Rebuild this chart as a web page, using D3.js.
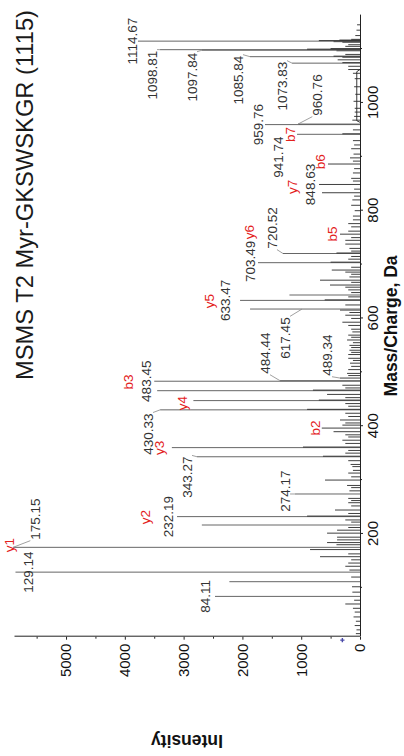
<!DOCTYPE html>
<html><head><meta charset="utf-8">
<script src="https://cdn.jsdelivr.net/npm/d3@7"></script>
<style>html,body{margin:0;padding:0;background:#fff;}svg{display:block;}</style>
</head><body>
<svg id="chart" width="404" height="756"></svg>
<script>
// ---------- data ----------
const chartTitle = "MSMS T2 Myr-GKSWSKGR (1115)";
const xTitle = "Mass/Charge, Da";
const yTitle = "Intensity";
const mzTicks = [200, 400, 600, 800, 1000];
const mzMinorTicks = [100, 300, 500, 700, 900, 1100];
const intTicks = [0, 1000, 2000, 3000, 4000, 5000];
const intMinorTicks = [500, 1500, 2500, 3500, 4500, 5500];

const peakMz = [15,22,30,38,46,55,62,70,77,84.11,92,102,111.4,120,129.14,133,140,146,152,157.8,163,171,175.15,180,184,189,194,201.5,207,212,216.6,222,226,232.19,233.2,238,244.4,252,258,262,266,274.17,280,286,290,300,306,313,318,325,329,336,343.27,344.3,350,355,360.24,361.3,368,374,380,384,389.8,396.5,402,406,411.5,418,424,430.33,431.3,437,442,447.5,448.5,453,459,465.9,467,471,476,483.45,484.44,489.34,494,498,505,511,517,522,526,533,537,541,546,550,555,560,565,569,575,580,587,593,600,606,611,615.5,617.45,625,633.47,634.5,640,643.5,648,653,658,662,667,671,677,682,686,689.8,695,703.49,704.5,710,715,720.52,721.5,725,730,738,745,750,756.4,762,770,776,783,790,800,810,820,827,833.3,840,848.63,855,860,870,878,886.6,892,898,905,915,922,930,941.74,942.7,950,959.76,960.76,968,975,983,990,1003,1016,1030,1045,1055,1062,1068,1073.83,1074.8,1080,1084.8,1085.84,1086.8,1090,1096.8,1097.84,1098.81,1099.8,1100.8,1105,1108,1112.7,1113.7,1114.67,1115.67,1116.67,1118,1125,1135,1145];
const peakInt = [70,60,90,70,110,90,120,250,100,2466,130,136,2222,150,5860,180,250,200,150,680,200,850,5900,400,560,390,390,560,390,200,2690,150,250,3112,900,200,425,150,200,150,200,1105,180,150,220,595,150,200,120,130,160,200,2772,630,250,200,3200,970,250,300,200,250,450,650,300,250,340,200,250,3400,900,200,250,2834,700,250,560,3450,800,250,300,3500,1360,340,200,220,200,150,170,120,200,200,150,180,150,180,120,220,150,200,130,150,200,300,150,250,180,340,1870,250,2040,600,200,1200,150,200,250,510,150,680,180,150,250,480,150,1735,500,200,150,1310,400,150,180,250,250,150,340,200,150,200,120,120,90,150,130,100,646,100,697,120,150,120,100,544,120,170,110,150,100,120,1071,300,120,1616,1054,130,100,90,90,110,80,100,90,120,200,200,1156,300,380,300,1871,450,250,400,2687,3401,900,500,250,200,300,450,3776,700,350,150,80,60,50];

// raised profile floor
const floorMz = [964, 967, 1058, 1062];
const floorInt = [0, 55, 55, 0];

// numeric peak annotations: text, peak m/z, label centre m/z, label baseline intensity, leader
const numLabels = [
  {t:"1114.67", mz:1114.67, lmz:1114.67, lint:3793, leader:false},
  {t:"1098.81", mz:1098.81, lmz:1051.8, lint:3452, leader:true},
  {t:"1097.84", mz:1097.84, lmz:1047.9, lint:2772, leader:true},
  {t:"1085.84", mz:1085.84, lmz:1042.4, lint:1990, leader:true},
  {t:"1073.83", mz:1073.83, lmz:1031.3, lint:1241, leader:true},
  {t:"960.76",  mz:960.76,  lmz:1014.7, lint:646,  leader:true},
  {t:"959.76",  mz:959.76,  lmz:959.76, lint:1650, leader:false},
  {t:"941.74",  mz:941.74,  lmz:899.6,  lint:1310, leader:false},
  {t:"848.63",  mz:848.63,  lmz:848.63, lint:765,  leader:false},
  {t:"720.52",  mz:720.52,  lmz:767.9,  lint:1412, leader:true},
  {t:"703.49",  mz:703.49,  lmz:706.0,  lint:1786, leader:false},
  {t:"633.47",  mz:633.47,  lmz:633.47, lint:2211, leader:false},
  {t:"617.45",  mz:617.45,  lmz:563.7,  lint:1190, leader:true, lend:986},
  {t:"484.44",  mz:484.44,  lmz:535.7,  lint:1531, leader:true},
  {t:"489.34",  mz:489.34,  lmz:532.0,  lint:476,  leader:true},
  {t:"483.45",  mz:483.45,  lmz:483.45, lint:3554, leader:false},
  {t:"430.33",  mz:430.33,  lmz:385.2,  lint:3520, leader:true},
  {t:"343.27",  mz:343.27,  lmz:305.6,  lint:2857, leader:true},
  {t:"274.17",  mz:274.17,  lmz:279.7,  lint:1190, leader:true},
  {t:"232.19",  mz:232.19,  lmz:232.19, lint:3180, leader:false},
  {t:"175.15",  mz:175.15,  lmz:227.7,  lint:5442, leader:true},
  {t:"129.14",  mz:129.14,  lmz:129.14, lint:5561, leader:false},
  {t:"84.11",   mz:84.11,   lmz:84.11,  lint:2551, leader:false}
];
// fragment-ion annotations (red)
const ionLabels = [
  {t:"y1", lmz:179.5, lint:5890},
  {t:"y2", lmz:231.2, lint:3571},
  {t:"y3", lmz:359.6, lint:3333},
  {t:"y4", lmz:443.0, lint:2942},
  {t:"y5", lmz:632.3, lint:2483},
  {t:"y6", lmz:760.4, lint:1803},
  {t:"y7", lmz:844.0, lint:1071},
  {t:"b2", lmz:396.5, lint:680},
  {t:"b3", lmz:482.0, lint:3860},
  {t:"b5", lmz:756.9, lint:391},
  {t:"b6", lmz:891.0, lint:595},
  {t:"b7", lmz:941.4, lint:1105}
];
const markerMz = 3, markerInt = 300;

// ---------- drawing ----------
const W = 756;            // un-rotated chart width (page height)
const FONT = "'Liberation Sans', Arial, sans-serif";
const svg = d3.select("#chart");
const g = svg.append("g").attr("transform", `translate(0,${W}) rotate(-90)`);

const x = d3.scaleLinear().domain([9.3, 1163]).range([119.3, 740.9]);
const y = d3.scaleLinear().domain([0, 5885]).range([360, 14]);

// profile floor
g.append("path")
  .attr("d", d3.line().x(i => x(floorMz[i])).y(i => y(floorInt[i]))(d3.range(floorMz.length)))
  .attr("fill", "none").attr("stroke", "#222").attr("stroke-width", 0.9);

// peaks
g.append("g").selectAll("line").data(d3.range(peakMz.length)).join("line")
  .attr("x1", i => x(peakMz[i])).attr("x2", i => x(peakMz[i]))
  .attr("y1", y(0)).attr("y2", i => y(peakInt[i]))
  .attr("stroke", i => peakInt[i] > 1000 ? "#555" : "#2a2a2a")
  .attr("stroke-width", 0.9);

// axes
function styleAxis(sel) {
  sel.attr("font-family", FONT).attr("font-size", 15);
  sel.selectAll("path.domain").attr("stroke", "#222").attr("stroke-width", 1);
  sel.selectAll(".tick line").attr("stroke", "#222");
  sel.selectAll("text").attr("fill", "#111");
}
g.append("g").attr("transform", `translate(0,${y(0)})`)
  .call(d3.axisBottom(x).tickValues(mzTicks).tickSize(3).tickSizeOuter(0).tickPadding(4).tickFormat(d3.format("d")))
  .call(styleAxis);
g.append("g").attr("transform", `translate(0,${y(0)})`)
  .call(d3.axisBottom(x).tickValues(mzMinorTicks).tickSize(2).tickSizeOuter(0).tickFormat(""))
  .call(styleAxis).select("path.domain").remove();

g.append("g").attr("transform", `translate(${x(9.3)},0)`)
  .call(d3.axisLeft(y).tickValues(intTicks).tickSize(3).tickSizeOuter(0).tickPadding(4).tickFormat(d3.format("d")))
  .call(styleAxis);
g.append("g").attr("transform", `translate(${x(9.3)},0)`)
  .call(d3.axisLeft(y).tickValues(intMinorTicks).tickSize(2).tickSizeOuter(0).tickFormat(""))
  .call(styleAxis).select("path.domain").remove();

// blue marker
g.append("path").attr("d", d3.symbol(d3.symbolCross, 10)())
  .attr("transform", `translate(${x(markerMz)},${y(markerInt)})`)
  .attr("fill", "#4a4aa8");

// axis titles
g.append("text").attr("x", (x(9.3) + x(1163)) / 2).attr("y", 397)
  .attr("text-anchor", "middle").attr("font-family", FONT).attr("font-weight", "bold")
  .attr("font-size", 17.5).attr("fill", "#111").text(xTitle);
g.append("text").attr("transform", `translate(21.5,${(y(0) + y(5885)) / 2}) rotate(-90)`)
  .attr("text-anchor", "middle").attr("font-family", FONT).attr("font-weight", "bold")
  .attr("font-size", 17.5).attr("fill", "#111").text(yTitle);

// chart title
g.append("text").attr("x", 746).attr("y", 33).attr("text-anchor", "end")
  .attr("font-family", FONT).attr("font-size", 24).attr("fill", "#1a1a1a")
  .attr("textLength", 370).attr("lengthAdjust", "spacingAndGlyphs").text(chartTitle);

// numeric labels + leaders
const LF = 13.5;
const labG = g.append("g").attr("font-family", FONT).attr("font-size", LF);
numLabels.forEach(d => {
  const tx = labG.append("text").attr("x", x(d.lmz)).attr("y", y(d.lint))
    .attr("text-anchor", "middle").attr("fill", "#333").text(d.t);
  if (d.leader) {
    const w = tx.node().getComputedTextLength();
    const left = x(d.lmz) - w / 2, right = x(d.lmz) + w / 2;
    const base = y(d.lint), top = base - LF * 0.72;
    const px = x(d.mz), py = y(d.lend !== undefined ? d.lend : peakInt[peakMz.indexOf(d.mz)]);
    let x1;
    if (px > right - 2) x1 = right + 1;
    else if (px < left + 2) x1 = left - 1;
    else x1 = px;
    const y1 = Math.max(top, Math.min(base, py));
    labG.append("path").attr("d", `M${x1},${y1}L${px},${py}`)
      .attr("fill", "none").attr("stroke", "#888").attr("stroke-width", 0.8);
  }
});
ionLabels.forEach(d => {
  labG.append("text").attr("x", x(d.lmz)).attr("y", y(d.lint))
    .attr("text-anchor", "middle").attr("fill", "#e3211c").text(d.t);
});
</script>
</body></html>
